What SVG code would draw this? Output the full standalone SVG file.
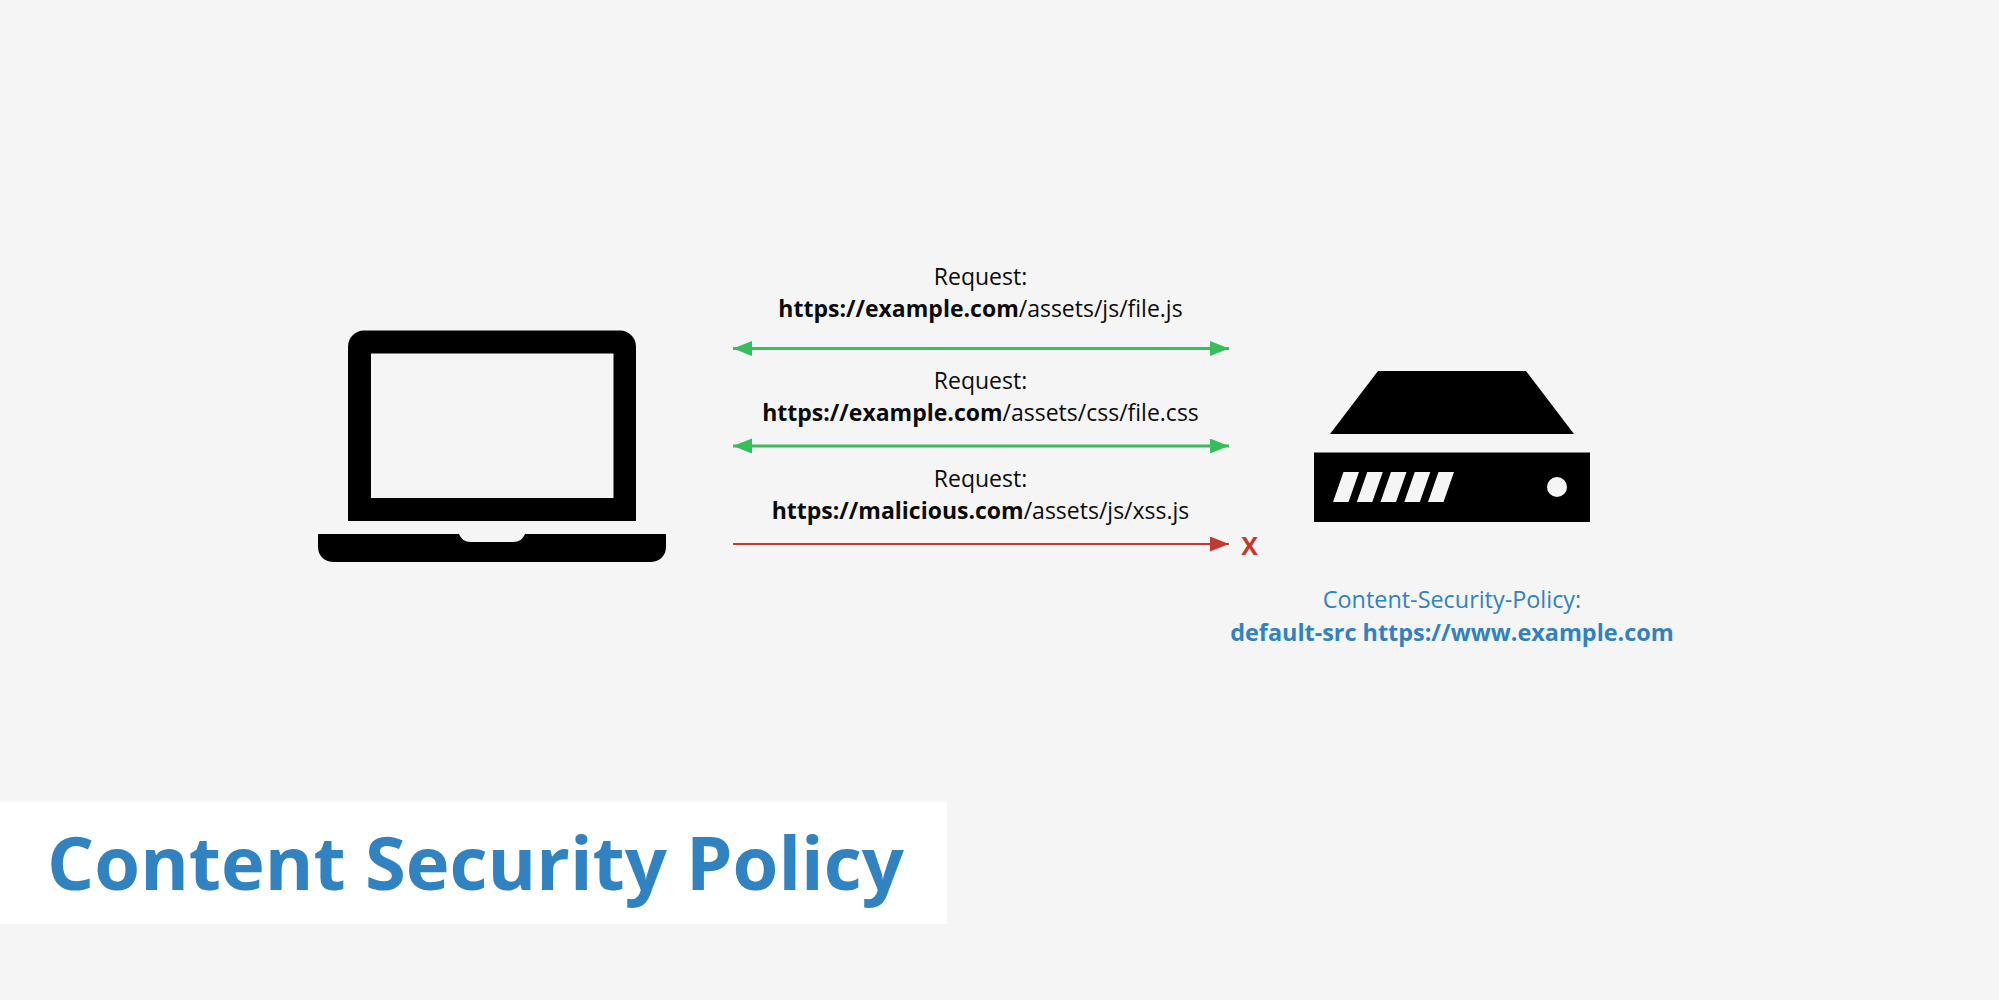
<svg xmlns="http://www.w3.org/2000/svg" width="1999" height="1000" viewBox="0 0 1999 1000">
<style>
text{font-family:"Open Sans","Noto Sans",sans-serif;text-anchor:middle}
.t{font-size:23px;fill:#0a0a0a}
.b{font-weight:700}
.c{font-size:23.4px;fill:#3182c0}
.g{stroke:#34bf5a;stroke-width:3;fill:none}
.r{stroke:#c4392f;stroke-width:2;fill:none}
</style>
<defs>
<marker id="ag" markerUnits="userSpaceOnUse" markerWidth="20" markerHeight="16" refX="19" refY="7.500" orient="auto-start-reverse"><path d="M0 0L19 7.500L0 15Z" fill="#34bf5a"/></marker>
<marker id="ar" markerUnits="userSpaceOnUse" markerWidth="20" markerHeight="16" refX="19" refY="7.500" orient="auto"><path d="M0 0L19 7.500L0 15Z" fill="#c4392f"/></marker>
</defs>
<rect width="1999" height="1000" fill="#f5f5f5"/>
<g id="laptop">
<path fill-rule="evenodd" d="M364 330.500H620A16 16 0 0 1 636 346.500V521H348V346.500A16 16 0 0 1 364 330.500ZM371 353.500V498H613.500V353.500Z"/>
<path d="M318 534H459C461 539 465 542 471 542H513C519 542 523 539 525 534H666V547C666 556 659 562 650 562H334C325 562 318 556 318 547Z"/>
</g>
<g id="server">
<path d="M1378 371H1526L1574 434H1330Z"/>
<path fill-rule="evenodd" d="M1314 452.500H1590V522H1314ZM1333 502H1348.500L1359 472H1343.500ZM1356.800 502H1372.300L1382.800 472H1367.300ZM1380.500 502H1396L1406.500 472H1391ZM1404.300 502H1419.800L1430.300 472H1414.800ZM1428 502H1443.500L1454 472H1438.500Z"/>
<circle cx="1557" cy="487" r="10" fill="#f5f5f5"/>
</g>
<g id="connectors">
<line class="g" x1="733" y1="348.500" x2="1229" y2="348.500" marker-start="url(#ag)" marker-end="url(#ag)"/>
<line class="g" x1="733" y1="446" x2="1229" y2="446" marker-start="url(#ag)" marker-end="url(#ag)"/>
<line class="r" x1="733" y1="544" x2="1229" y2="544" marker-end="url(#ar)"/>
</g>
<g id="request-1">
<text class="t" x="980.500" y="285">Request:</text>
<text class="t" x="980.500" y="317"><tspan class="b">https://example.com</tspan>/assets/js/file.js</text>
</g>
<g id="request-2">
<text class="t" x="980.500" y="388.500">Request:</text>
<text class="t" x="980.500" y="421"><tspan class="b">https://example.com</tspan>/assets/css/file.css</text>
</g>
<g id="request-3">
<text class="t" x="980.500" y="487">Request:</text>
<text class="t" x="980.500" y="519"><tspan class="b">https://malicious.com</tspan>/assets/js/xss.js</text>
</g>
<g id="blocked"><text x="1249.500" y="555" font-size="25" font-weight="700" fill="#c4392f">X</text></g>
<g id="policy">
<text class="c" x="1452" y="608">Content-Security-Policy:</text>
<text class="c b" x="1452" y="641">default-src https://www.example.com</text>
</g>
<g id="title">
<rect x="0" y="802" width="947" height="122" fill="#fff"/>
<text x="475.500" y="890" font-size="74.100" font-weight="700" fill="#3182c0">Content Security Policy</text>
</g>
</svg>
